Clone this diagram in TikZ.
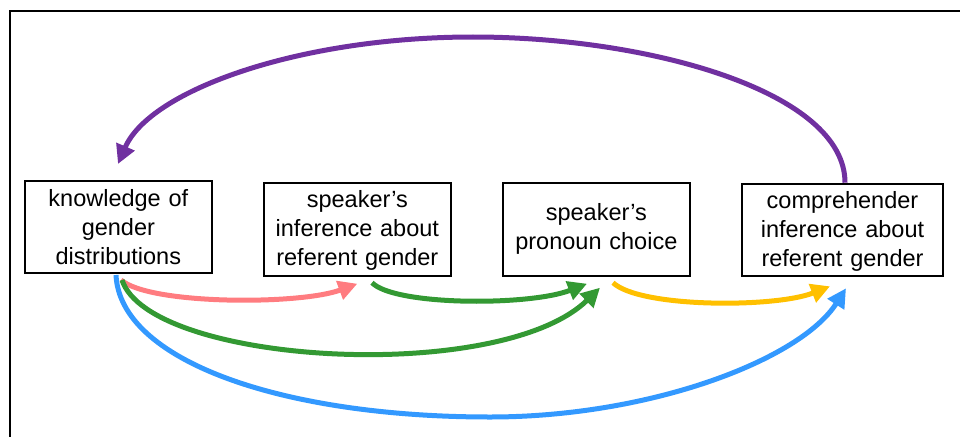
\documentclass[tikz,border=0pt]{standalone}
\usepackage{fontspec}
\setmainfont{Liberation Sans}
\usetikzlibrary{arrows.meta}

\definecolor{arrPurple}{HTML}{7030A0}
\definecolor{arrPink}{HTML}{FF7C80}
\definecolor{arrGreen}{HTML}{339933}
\definecolor{arrYellow}{HTML}{FFC000}
\definecolor{arrBlue}{HTML}{3399FF}

\tikzset{
  box/.style={draw=black, line width=2pt, rectangle, inner sep=0pt,
    align=center, text width=180pt,
    font=\fontsize{23.5}{29}\selectfont},
  flow/.style={line width=5pt, -{Triangle[length=19pt,width=19pt]}}
}

\begin{document}
\begin{tikzpicture}[x=1pt, y=-1pt]
  \useasboundingbox (0,0) rectangle (960,436);

  % outer frame (open to the right and bottom)
  \draw[line width=2pt] (10,440) -- (10,11) -- (965,11);

  % stages
  \node[box, minimum width=186.7pt, minimum height=92pt] (know)
    at (118.35,227) {knowledge of\\gender\\distributions};
  \node[box, minimum width=186.7pt, minimum height=92.7pt] (spkinf)
    at (357.35,229.35) {\rule{0pt}{19.5pt}speaker’s\\inference about\\referent gender};
  \node[box, minimum width=186.7pt, minimum height=92.7pt] (pron)
    at (596.35,229.35) {speaker’s\\pronoun choice};
  \node[box, text width=195pt, minimum width=201pt, minimum height=92.6pt] (comp)
    at (842.5,230) {\rule{0pt}{19.5pt}comprehender\\inference about\\referent gender};

  % feedback from the comprehender back to prior knowledge
  \draw[flow, arrPurple] ([xshift=2.5pt]comp.north)
    .. controls (845,92) and (650,37) .. (473,37)
    .. controls (300,37) and (150,90) .. ([xshift=-0.35pt,yshift=16pt]know.north);

  % knowledge -> speaker's inference
  \draw[flow, arrPink] ([xshift=2.65pt,yshift=-6pt]know.south)
    .. controls (150,305) and (300,305) .. ([yshift=-7pt]spkinf.south);

  % speaker's inference -> pronoun choice
  \draw[flow, arrGreen] ([xshift=14.65pt,yshift=-6pt]spkinf.south)
    .. controls (395,306) and (530,306) .. ([xshift=-9.35pt,yshift=-7pt]pron.south);

  % knowledge -> pronoun choice
  \draw[flow, arrGreen] ([xshift=3.65pt,yshift=-6pt]know.south)
    .. controls (150,365) and (500,385) .. ([xshift=3.65pt,yshift=-11pt]pron.south);

  % pronoun choice -> comprehender inference
  \draw[flow, arrYellow] ([xshift=16.65pt,yshift=-6pt]pron.south)
    .. controls (640,308) and (775,308) .. ([xshift=-12.5pt,yshift=-9pt]comp.south);

  % knowledge -> comprehender inference
  \draw[flow, arrBlue] ([xshift=-2.35pt,yshift=-1pt]know.south)
    .. controls (120,360) and (280,417) .. (490,417)
    .. controls (650,417) and (800,360) .. ([xshift=3.5pt,yshift=-11pt]comp.south);
\end{tikzpicture}
\end{document}
